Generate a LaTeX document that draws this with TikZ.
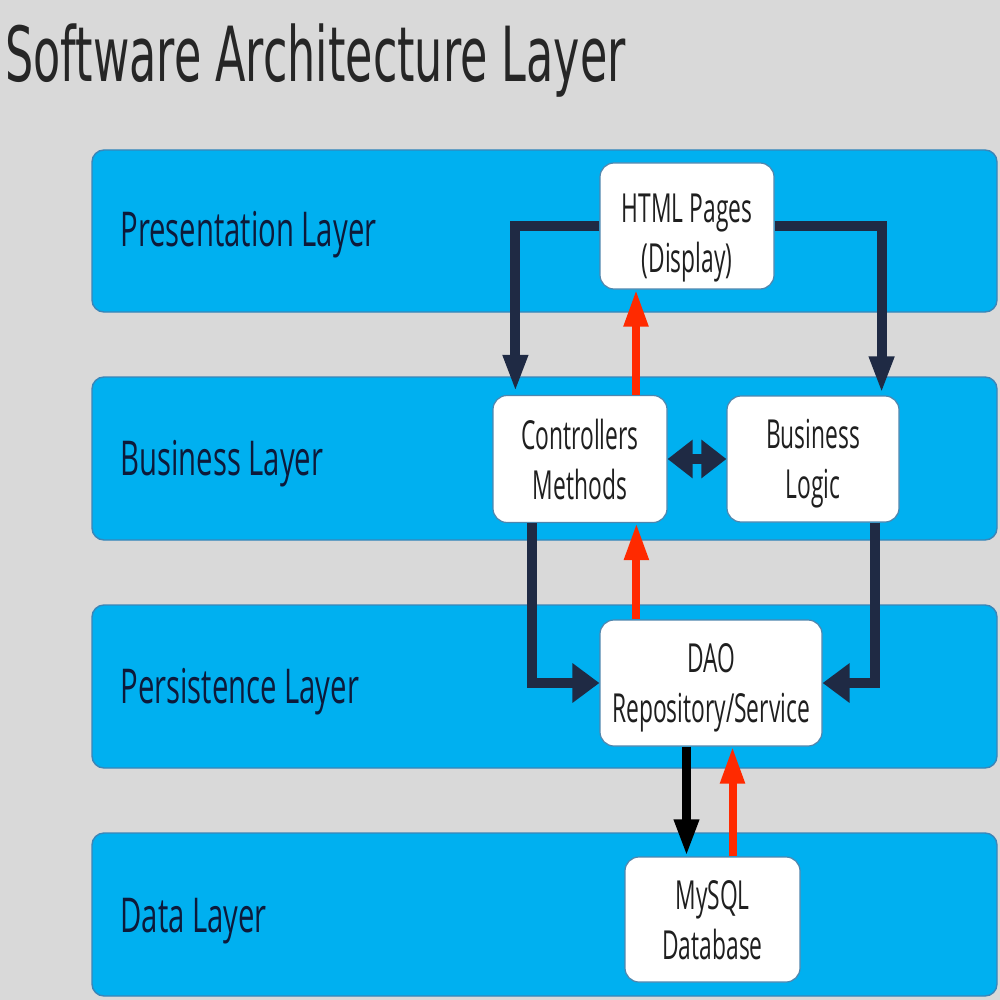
\documentclass[tikz,border=0pt]{standalone}
\usepackage{fontspec}
\setmainfont[FakeStretch=0.57]{Open Sans}
\newfontfamily\labelfont[FakeStretch=0.61]{Open Sans}
\newfontfamily\titlefont[FakeStretch=0.585]{DejaVu Sans}
\usetikzlibrary{arrows.meta}
\definecolor{bg}{HTML}{D9D9D9}
\definecolor{band}{HTML}{00B0F0}
\definecolor{bandline}{HTML}{3A86B8}
\definecolor{boxline}{HTML}{4F86AE}
\definecolor{navy}{HTML}{1F2A44}
\definecolor{redarr}{HTML}{FF2A00}
\definecolor{labeltext}{HTML}{0D1A3A}
\definecolor{titletext}{HTML}{262626}
\begin{document}
\begin{tikzpicture}[x=0.5pt,y=-0.5pt,
  layerband/.style={draw=bandline, line width=0.7pt, fill=band, rounded corners=6pt},
  layerlabel/.style={anchor=base west, text=labeltext, font=\labelfont\fontsize{24}{28}\selectfont, inner sep=0pt},
  compbox/.style={draw=boxline, line width=0.6pt, fill=white, rounded corners=7pt, align=center,
    font=\fontsize{20}{25}\selectfont, inner sep=0pt, text depth=0pt, text=black!88},
  darr/.style={draw=navy, line width=5pt, -{Triangle[width=11.5pt,length=18.5pt]}},
  darrbig/.style={draw=navy, line width=5pt, -{Triangle[width=19pt,length=13.5pt]}},
  biarr/.style={draw=navy, line width=5pt, {Triangle[width=18.5pt,length=12.5pt]}-{Triangle[width=18.5pt,length=12.5pt]}},
  rarr/.style={draw=redarr, line width=4pt, -{Triangle[width=11.5pt,length=18.5pt]}},
  barr/.style={draw=black, line width=4.5pt, -{Triangle[width=11.5pt,length=18.5pt]}}
]
\fill[bg] (0,0) rectangle (1000,1000);
\useasboundingbox (0,0) rectangle (1000,1000);

\node[anchor=base west, inner sep=0pt, text=titletext, font=\titlefont\fontsize{38}{42}\selectfont] (title) at (5,82) {Software Architecture Layer};

\draw[layerband] (92,150) rectangle (997,312);
\draw[layerband] (92,377) rectangle (997,540);
\draw[layerband] (92,605) rectangle (997,768);
\draw[layerband] (92,833) rectangle (997,996);

\node[layerlabel] (lpres) at (120,247) {Presentation Layer};
\node[layerlabel] (lbus) at (120,475) {Business Layer};
\node[layerlabel] (lpers) at (120,703) {Persistence Layer};
\node[layerlabel] (ldata) at (120,932) {Data Layer};

\node[compbox, minimum width=87pt, minimum height=63pt] (html) at (687,226) {\rule{0pt}{21pt}HTML Pages\\(Display)};
\node[compbox, minimum width=87pt, minimum height=63.5pt] (ctrl) at (580,459) {Controllers\\Methods};
\node[compbox, minimum width=86pt, minimum height=63pt] (biz) at (813,459) {Business\\Logic};
\node[compbox, minimum width=111pt, minimum height=63pt] (dao) at (711,683) {DAO\\Repository/Service};
\node[compbox, minimum width=87.5pt, minimum height=62.5pt] (db) at (712.5,919.5) {MySQL\\Database};

\draw[darr] (html.west) -| ([xshift=11.5pt,yshift=1.5pt]ctrl.north west);
\draw[darr] (html.east) -| ([xshift=-9pt,yshift=1pt]biz.north east);
\draw[rarr] ([xshift=28pt]ctrl.north) -- ([xshift=28pt]ctrl.north |- html.south);
\draw[biarr] (ctrl.east) -- (biz.west);
\draw[darrbig] ([xshift=20pt]ctrl.south west) |- (dao.west);
\draw[darrbig] ([xshift=-12.5pt]biz.south east) |- (dao.east);
\draw[rarr] ([xshift=18.5pt]dao.north west) -- ([xshift=18.5pt]dao.north west |- ctrl.south);
\draw[barr] ([xshift=-13pt]db.north |- dao.south) -- ([xshift=-13pt]db.north);
\draw[rarr] ([xshift=10pt]db.north) -- ([xshift=10pt]db.north |- dao.south);
\end{tikzpicture}
\end{document}
